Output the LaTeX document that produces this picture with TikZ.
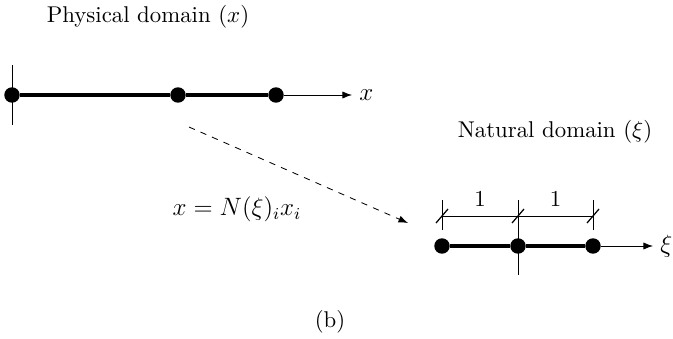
\documentclass[tikz,border=0pt]{standalone}
\usepackage{amsmath}
\usetikzlibrary{arrows.meta,positioning,calc}

\begin{document}
\begin{tikzpicture}[
    x=0.0168cm,y=-0.0168cm,
    every node/.style={font=\fontsize{11.5}{14}\selectfont},
    label/.style={font=\fontsize{10.9}{13}\selectfont},
    dot/.style={circle,fill,inner sep=0pt,minimum size=0.26cm},
    elem/.style={line width=1.8pt},
    axis/.style={-{Latex[length=1.6mm,width=1.2mm]}},
    guide/.style={thin},
    slash/.style={semithick},
    map/.style={dashed,-{Latex[length=1.6mm,width=1.2mm]}}
  ]
    \useasboundingbox (0,0) rectangle (673,338);

    % physical domain
    \node[label] (phys) at (148,17) {Physical domain $(x)$};
    \coordinate (pvtop) at (12,65);
    \coordinate (pvbot) at (12,125);
    \draw[guide] (pvtop) -- (pvbot);
    \node[dot] (p1) at (12,95) {};
    \node[dot] (p2) at (178,95) {};
    \node[dot] (p3) at (276,95) {};
    \coordinate (xend) at (352,95);
    \node[right=0pt of xend] (xlab) {$x$};
    \draw[elem] (p1) -- (p2);
    \draw[elem] (p2) -- (p3);
    \draw[axis] (p3) -- (xend);

    % mapping
    \node (eq) at (237,209) {$x = N(\xi)_i x_i$};
    \coordinate (mfrom) at (189,127);
    \coordinate (mto) at (408,223);
    \draw[map] (mfrom) -- (mto);

    % natural domain
    \node[label] (nat) at (555,132) {Natural domain $(\xi)$};
    \node[dot] (n1) at (442,246) {};
    \node[dot] (n2) at (518,246) {};
    \node[dot] (n3) at (593,246) {};
    \coordinate (xiend) at (653,246);
    \node[right=0pt of xiend] (xilab) {$\xi$};
    \draw[elem] (n1) -- (n2);
    \draw[elem] (n2) -- (n3);
    \draw[axis] (n3) -- (xiend);

    % element lengths
    \coordinate (d1) at ($(n1)+(0,-30)$);
    \coordinate (d2) at ($(n2)+(0,-30)$);
    \coordinate (d3) at ($(n3)+(0,-30)$);
    \draw[guide] ($(n1)+(0,-46)$) -- ($(n1)+(0,-16)$);
    \draw[guide] ($(n2)+(0,-46)$) -- ($(n2)+(0,29)$);
    \draw[guide] ($(n3)+(0,-46)$) -- ($(n3)+(0,-16)$);
    \draw[guide] (d1) -- (d3);
    \foreach \d in {d1,d2,d3}
      \draw[slash] ($(\d)+(-6,7)$) -- ($(\d)+(6,-7)$);
    \node[label,above=1pt] (len1) at ($(d1)!0.5!(d2)$) {1};
    \node[label,above=1pt] (len2) at ($(d2)!0.5!(d3)$) {1};

    \node[label] (cap) at (330,322) {(b)};
\end{tikzpicture}
\end{document}
